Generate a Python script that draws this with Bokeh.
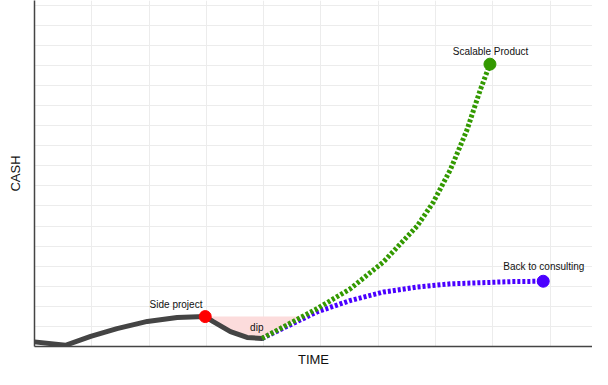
from bokeh.plotting import figure
from bokeh.models import FixedTicker, Range1d, Label
from bokeh.embed import file_html
from bokeh.resources import INLINE

# Data (time units, cash units)
side_x = [0.0, 0.54, 0.98, 1.44, 1.97, 2.49, 2.98, 3.12, 3.42, 3.71, 3.97]
side_y = [0.23, 0.06, 0.50, 0.89, 1.25, 1.44, 1.49, 1.24, 0.74, 0.45, 0.40]

scal_x = [3.97, 4.93, 5.51, 6.09, 6.68, 6.96, 7.26, 7.55, 7.78, 7.95]
scal_y = [0.40, 1.88, 2.87, 4.21, 6.00, 7.18, 8.81, 10.79, 12.77, 14.06]

cons_x = [3.97, 4.93, 5.51, 6.09, 6.68, 7.26, 8.31, 8.88]
cons_y = [0.40, 1.72, 2.29, 2.71, 2.96, 3.12, 3.23, 3.25]

dip_cross_x = 4.67  # where the scalable line climbs back to the side-project level

labels = ["Side project", "dip", "Scalable Product", "Back to consulting"]
label_x = [2.47, 3.88, 7.96, 8.89]
label_y = [2.08, 0.93, 14.7, 3.96]

grid_x = list(range(0, 10))
grid_y = list(range(0, 18))

FONT = "Liberation Sans"

p = figure(width=592, height=369, output_backend="svg", toolbar_location=None,
           x_range=Range1d(0, 9.74), y_range=Range1d(0, 17.23),
           min_border_left=34, min_border_right=0, min_border_top=0, min_border_bottom=21)
p.outline_line_color = None
p.background_fill_color = "white"
p.border_fill_color = "white"

for ax in (p.xaxis, p.yaxis):
    ax.ticker = FixedTicker(ticks=[])
    ax.major_tick_line_color = None
    ax.minor_tick_line_color = None
    ax.major_label_standoff = 0
    ax.axis_label_text_font = FONT
    ax.axis_label_text_font_size = "13px"
    ax.axis_label_text_font_style = "normal"
    ax.axis_label_text_color = "#111111"
p.xaxis.axis_label = "TIME"
p.yaxis.axis_label = "CASH"
p.xaxis.axis_label_standoff = 5
p.yaxis.axis_label_standoff = 12
p.xaxis.axis_line_color = "#444444"
p.xaxis.axis_line_width = 1.5
p.yaxis.axis_line_color = "#444444"
p.yaxis.axis_line_width = 1.5

p.xgrid.ticker = FixedTicker(ticks=grid_x)
p.ygrid.ticker = FixedTicker(ticks=grid_y)
p.xgrid.grid_line_color = "#ececec"
p.ygrid.grid_line_color = "#ececec"

# pink dip area: from the side-project peak down along the curve, back up along the scalable line
i_peak = side_y.index(max(side_y))
px = side_x[i_peak:] + [scal_x[0], dip_cross_x]
py = side_y[i_peak:] + [scal_y[0], side_y[i_peak]]
p.patch(px, py, fill_color="#fcdcdc", line_color=None)

p.line(side_x, side_y, line_color="#444444", line_width=5, line_cap="round", line_join="round")
p.line(cons_x, cons_y, line_color="#4a00ff", line_width=5, line_dash="3 2")
p.line(scal_x, scal_y, line_color="#339900", line_width=5, line_dash="3 2")

p.scatter([side_x[i_peak]], [side_y[i_peak]], size=12, color="#ff0000")
p.scatter([scal_x[-1]], [scal_y[-1]], size=12, color="#339900")
p.scatter([cons_x[-1]], [cons_y[-1]], size=12, color="#4a00ff")

for t, x, y in zip(labels, label_x, label_y):
    p.add_layout(Label(x=x, y=y, text=t, text_align="center", text_baseline="alphabetic",
                       text_font=FONT, text_font_size="10px", text_color="#111111"))

open("out.html", "w").write(file_html(p, INLINE))
